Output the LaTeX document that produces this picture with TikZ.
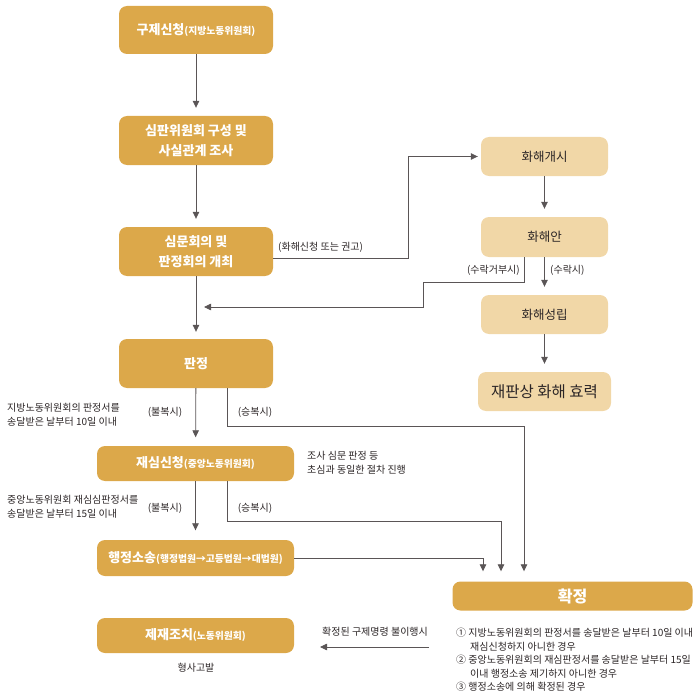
\documentclass[tikz,border=0pt]{standalone}
\usepackage{fontspec}
\setmainfont{Noto Sans CJK KR}
\usetikzlibrary{arrows.meta}
\definecolor{gold}{HTML}{DCA84A}
\definecolor{lgold}{HTML}{F1D7A7}
\definecolor{ink}{HTML}{2B2526}
\definecolor{wire}{HTML}{5A5556}
\newcommand{\subtxt}[1]{{\fontsize{9.8}{11}\selectfont #1}}
\tikzset{
  mainbox/.style={fill=gold, rounded corners=8pt, text=white, font=\bfseries\fontsize{13}{19.5}\selectfont, align=center, inner sep=0pt},
  lightbox/.style={fill=lgold, rounded corners=8pt, text=ink, minimum width=127pt, minimum height=39pt, font=\fontsize{12.5}{14}\selectfont, inner sep=0pt},
  small/.style={text=ink, font=\fontsize{10}{14}\selectfont, inner sep=0pt},
  arr/.style={draw=wire, line width=0.8pt, -{Triangle[width=6.5pt,length=7pt]}, shorten >=8pt}
}
\begin{document}
\begin{tikzpicture}[x=1pt,y=-1pt]
\useasboundingbox (0,0) rectangle (697,693);
% main column
\node[mainbox, minimum width=154pt, minimum height=48pt] (s1) at (196,30) {구제신청\subtxt{(지방노동위원회)}};
\node[mainbox, minimum width=154pt, minimum height=49pt] (s2) at (196,140.5) {심판위원회 구성 및\\사실관계 조사};
\node[mainbox, minimum width=154pt, minimum height=49pt] (s3) at (196,251.5) {심문회의 및\\판정회의 개최};
\node[mainbox, minimum width=154pt, minimum height=49pt] (s4) at (196,363.5) {판정};
\node[mainbox, minimum width=197pt, minimum height=35pt] (s5) at (195.5,463.5) {재심신청\subtxt{(중앙노동위원회)}};
\node[mainbox, minimum width=197pt, minimum height=36pt] (s6) at (195.5,558) {행정소송\subtxt{(행정법원→고등법원→대법원)}};
\node[mainbox, minimum width=197pt, minimum height=35pt] (s7) at (195.5,635.5) {제재조치\subtxt{(노동위원회)}};
\node[mainbox, minimum width=240pt, minimum height=29pt, font=\bfseries\fontsize{16}{18}\selectfont] (fx) at (572.5,596) {확정};
% light column
\node[lightbox] (h1) at (544.5,156.5) {화해개시};
\node[lightbox, minimum height=40pt] (h2) at (544.5,237) {화해안};
\node[lightbox] (h3) at (544.5,314.5) {화해성립};
\node[lightbox, minimum width=133pt, font=\fontsize{15.5}{17}\selectfont] (h4) at (544.5,391.5) {재판상 화해 효력};
% labels
\node[small, anchor=west] (t1) at (278,247) {(화해신청 또는 권고)};
\node[small, anchor=east] (t2) at (520,270) {(수락거부시)};
\node[small, anchor=west] (t3) at (550,270) {(수락시)};
\node[small, anchor=west, align=left] (t4) at (7,414.5) {지방노동위원회의 판정서를\\송달받은 날부터 10일 이내};
\node[small] (t5) at (165,412) {(불복시)};
\node[small] (t6) at (255,412) {(승복시)};
\node[small, anchor=west, align=left] (t7) at (307,463) {조사 심문 판정 등\\초심과 동일한 절차 진행};
\node[small, anchor=west, align=left] (t8) at (7,506.5) {중앙노동위원회 재심심판정서를\\송달받은 날부터 15일 이내};
\node[small] (t9) at (165,508) {(불복시)};
\node[small] (t10) at (255,508) {(승복시)};
\node[small, anchor=west] (t11) at (322,632) {확정된 구제명령 불이행시};
\node[small] (t12) at (196,668) {형사고발};
\node[small, anchor=west] (l1) at (456,633) {① 지방노동위원회의 판정서를 송달받은 날부터 10일 이내};
\node[small, anchor=west] (l2) at (470,646.5) {재심신청하지 아니한 경우};
\node[small, anchor=west] (l3) at (456,660) {② 중앙노동위원회의 재심판정서를 송달받은 날부터 15일};
\node[small, anchor=west] (l4) at (470,673.5) {이내 행정소송 제기하지 아니한 경우};
\node[small, anchor=west] (l5) at (456,687) {③ 행정소송에 의해 확정된 경우};
% coordinates
\coordinate (c1) at (408,258);
\coordinate (r1) at (524,282);
\coordinate (r2) at (423,307);
\coordinate (r3) at (204,307);
\coordinate (p1) at (227,426);
\coordinate (p2) at (524,426);
\coordinate (q1) at (227,521);
\coordinate (q2) at (501,521);
\coordinate (w1) at (483,558);
\coordinate (k1) at (429,647);
\coordinate (k2) at (320,647);
% connectors
\draw[arr] (s1) -- (s2);
\draw[arr] (s2) -- (s3);
\draw[arr, shorten >=7pt] (s3) -- (s4);
\draw[arr, shorten >=8.5pt] (s4) -- (s5);
\draw[arr, shorten >=9.5pt] (s5) -- (s6);
\draw[arr, shorten >=3pt] (s3.east |- c1) -- (c1) |- (h1.west);
\draw[arr] (h1) -- (h2);
\draw[arr] (h2) -- (h3);
\draw[arr] (h3) -- (h4);
\draw[arr, shorten >=0pt] (h2.south -| r1) -- (r1) -| (r2) |- (r3);
\draw[arr, shorten >=10pt] (s4.south -| p1) -- (p1) -- (p2) -- (p2 |- fx.north);
\draw[arr, shorten >=10pt] (s5.south -| q1) -- (q1) -- (q2) -- (q2 |- fx.north);
\draw[arr, shorten >=10pt] (s6.east) -- (w1) -- (w1 |- fx.north);
\draw[arr, shorten >=0pt] (k1) -- (k2);
\end{tikzpicture}
\end{document}
